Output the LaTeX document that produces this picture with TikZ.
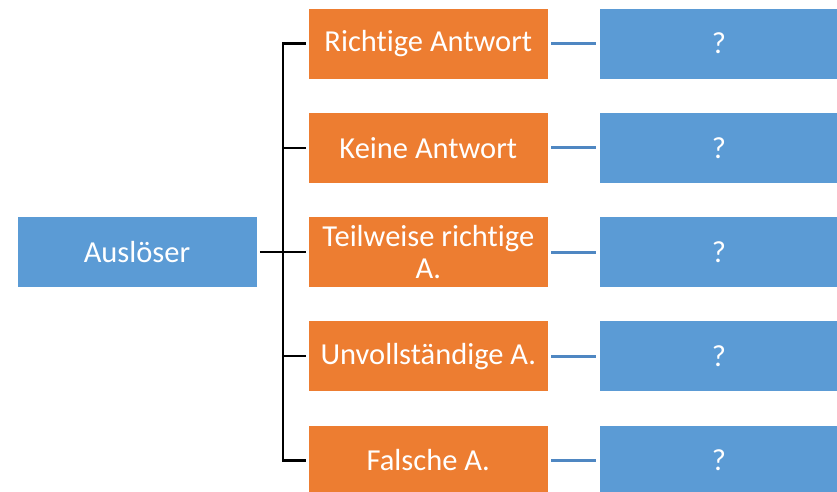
\documentclass[tikz,border=0pt]{standalone}
\usepackage{fontspec}
\setmainfont{Carlito}[Ligatures={NoCommon}]
\definecolor{accblue}{HTML}{5B9BD5}
\definecolor{accorange}{HTML}{ED7D31}
\definecolor{linkblue}{HTML}{4F87C2}
\newcommand{\nolig}{\kern0pt }
\tikzset{
  box/.style={minimum width=240pt, minimum height=71pt, inner sep=0pt, draw=white, line width=0.6pt, text=white, font=\fontsize{30.5}{32.5}\selectfont, align=center},
  bluebox/.style={box, fill=accblue},
  orangebox/.style={box, fill=accorange},
  tree/.style={black, line width=2.3pt},
  link/.style={linkblue, line width=3pt}
}
\begin{document}
\begin{tikzpicture}[x=1pt,y=-1pt]
\useasboundingbox (0,0) rectangle (837,491);
\node[bluebox] (src) at (137,252) {Ausl\"oser};
\node[orangebox] (o1) at (428.3,43.5) {Richt\nolig ige Antwort};
\node[orangebox] (o2) at (428.3,147.75) {Keine Antwort};
\node[orangebox] (o3) at (428.3,252) {Teilweise richt\nolig ige\\A.};
\node[orangebox] (o4) at (428.3,356.25) {Unvollst\"andige A.};
\node[orangebox] (o5) at (428.3,460.5) {Falsche A.};
\node[bluebox] (b1) at (719,43.5) {?};
\node[bluebox] (b2) at (719,147.75) {?};
\node[bluebox] (b3) at (719,252) {?};
\node[bluebox] (b4) at (719,356.25) {?};
\node[bluebox] (b5) at (719,460.5) {?};
\coordinate (top) at (283,43.5);
\coordinate (bot) at (283,460.5);
\draw[tree] ([xshift=2.5pt]src.east) -- ([xshift=-2.5pt]o3.west);
\draw[tree] ([xshift=-2.5pt]o1.west) -- (top) -- (bot) -- ([xshift=-2.5pt]o5.west);
\draw[tree] ([xshift=-2.5pt]o2.west) -- (o2.west -| top);
\draw[tree] ([xshift=-2.5pt]o4.west) -- (o4.west -| top);
\foreach \i in {1,...,5}{
  \draw[link] ([xshift=2.5pt]o\i.east) -- ([xshift=-2.5pt]b\i.west);
}
\end{tikzpicture}
\end{document}
